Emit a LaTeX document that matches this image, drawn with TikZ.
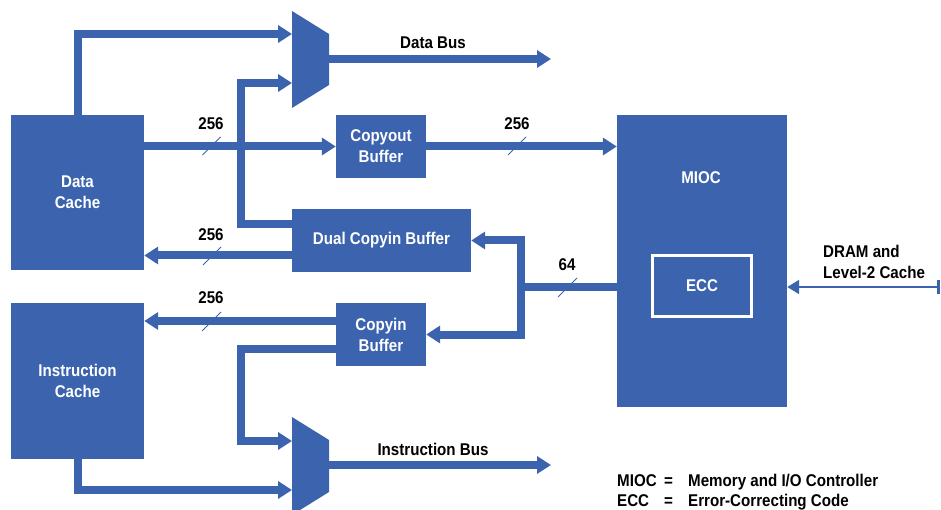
\documentclass[tikz,border=0pt]{standalone}
\usepackage{fontspec}
\setmainfont{Liberation Sans}[FakeStretch=0.89]
\usetikzlibrary{arrows.meta,calc}
\definecolor{hpblue}{RGB}{59,99,174}
\tikzset{
  blk/.style={fill=hpblue, draw=none, inner sep=0pt, text=white, align=center,
    font=\fontsize{17}{21}\selectfont\bfseries},
  bus/.style={draw=hpblue, line width=8pt, line join=miter,
    -{Triangle[length=14pt,width=17pt]}},
  busplain/.style={draw=hpblue, line width=8pt, line join=miter},
  thinbus/.style={draw=hpblue, line width=2pt,
    {Triangle[length=12pt,width=14pt]}-{Bar[width=14pt,line width=2.5pt]}},
  tick/.style={draw=hpblue, line width=0.8pt},
  lbl/.style={inner sep=0pt, text=black, font=\fontsize{17}{21}\selectfont\bfseries},
  lgd/.style={inner sep=0pt, anchor=base west, text=black, font=\fontsize{17}{21}\selectfont\bfseries},
  muxshape/.style={fill=hpblue, draw=none}
}
\begin{document}
\begin{tikzpicture}[x=1pt,y=-1pt]
\useasboundingbox (0,0) rectangle (941,510);
\clip (0,0) rectangle (941,510);

% blocks
\node[blk, minimum width=133pt, minimum height=155pt] (dc) at (77.5,192.5) {Data\\Cache};
\node[blk, minimum width=133pt, minimum height=156pt] (ic) at (77.5,381) {Instruction\\Cache};
\node[blk, minimum width=90pt, minimum height=63pt] (co) at (381,146.5) {Copyout\\Buffer};
\node[blk, minimum width=179pt, minimum height=63pt] (dual) at (381.5,240.5) {Dual Copyin Buffer};
\node[blk, minimum width=90pt, minimum height=63pt] (ci) at (381,334.5) {Copyin\\Buffer};
\node[blk, minimum width=170pt, minimum height=292pt] (mioc) at (702,261) {};
\node[blk] (mioclbl) at (701,178) {MIOC};
\node[blk, draw=white, line width=3pt, minimum width=99pt, minimum height=61pt] (ecc) at (702,286) {ECC};

% divider marks on dual buffer
\draw[white, line width=1.2pt] (dual.north) -- ++(0,-13);
\draw[white, line width=1.2pt] (dual.south) -- ++(0,14);

% multiplexers
\fill[hpblue] (292,11) -- (329,34) -- (329,85) -- (292,108) -- cycle;
\fill[hpblue] (292,417) -- (329,440) -- (329,492) -- (292,515) -- cycle;
\coordinate (mtin1) at (292,34);
\coordinate (mtin2) at (292,83);
\coordinate (mtout) at (328,59);
\coordinate (mbin1) at (292,441);
\coordinate (mbin2) at (292,490);
\coordinate (mbout) at (328,465);
\coordinate (dbend) at (551,59);
\coordinate (ibend) at (551,465);
\coordinate (j64) at (521,287);
\coordinate (dram) at (939.5,287);

% connectors
\draw[bus] (dc.north) |- (mtin1);
\draw[bus] ([yshift=16pt]dual.west) -- ++(-51,0) |- (mtin2);
\draw[bus] (dc.east |- co.west) -- (co.west);
\draw[bus] (co.east) -- (co.east -| mioc.west);
\draw[bus] ([yshift=-15pt]dual.west) -- ([yshift=-15pt]dual.west -| dc.east);
\draw[busplain] (mioc.west |- j64) -- (j64);
\draw[bus] (j64) |- (dual.east);
\draw[bus] (j64) |- (ci.east);
\draw[bus] ([yshift=13.5pt]ci.west) -- ([yshift=13.5pt]ci.west -| ic.east);
\draw[bus] ([yshift=-14.5pt]ci.west) -- ++(-95,0) |- (mbin1);
\draw[bus] (ic.south) |- (mbin2);
\draw[bus] (mtout) -- (dbend);
\draw[bus] (mbout) -- (ibend);
\draw[thinbus] (mioc.east |- dram) -- (dram);

% width ticks
\draw[tick] (202.5,155) -- (220.5,137);
\draw[tick] (508,155) -- (526,137);
\draw[tick] (203,265) -- (221,247);
\draw[tick] (558,297) -- (577,278);
\draw[tick] (202,331) -- (221,312);

% labels
\node[lbl] (w1) at (211,124) {256};
\node[lbl] (w2) at (517,124) {256};
\node[lbl] (w3) at (211,235) {256};
\node[lbl] (w4) at (211,298) {256};
\node[lbl] (w5) at (567,265) {64};
\node[lbl] (dbus) at (433,43) {Data Bus};
\node[lbl] (ibus) at (433,449) {Instruction Bus};
\node[lbl, align=left, anchor=west] (dramlbl) at (823,262) {DRAM and\\Level-2 Cache};

% legend
\node[lgd] (l1a) at (617,486) {MIOC};
\node[lgd] (l1b) at (664,486) {=};
\node[lgd] (l1c) at (688,486) {Memory and I/O Controller};
\node[lgd] (l2a) at (617,506) {ECC};
\node[lgd] (l2b) at (664,506) {=};
\node[lgd] (l2c) at (688,506) {Error-Correcting Code};
\end{tikzpicture}
\end{document}
